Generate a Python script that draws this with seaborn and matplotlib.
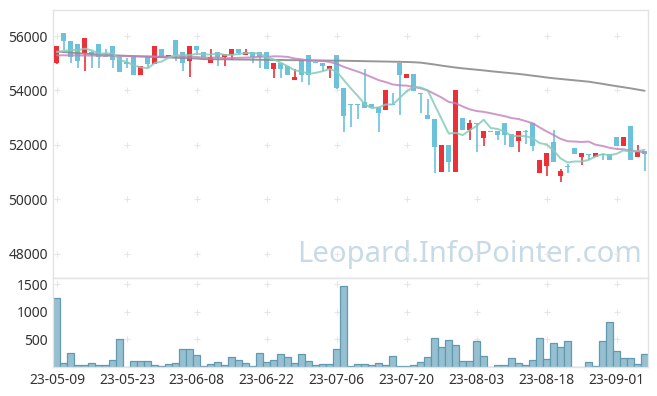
import numpy as np
import pandas as pd
import seaborn as sns
import matplotlib.pyplot as plt

# trading days (KRX holidays skipped)
dates = pd.bdate_range("2023-05-09", "2023-09-07", freq="C",
                       holidays=["2023-05-29", "2023-06-06", "2023-08-15"])
labels = [d.strftime("%y-%m-%d") for d in dates]

opens = [54990, 56120, 55830, 55715, 55370, 55410, 55715, 55260, 55640, 55210,
         55040, 55220, 54565, 55220, 54980, 55530, 55210, 55840, 55420, 55090,
         55640, 55420, 54990, 55420, 55220, 55310, 55520, 55310, 55420, 55420,
         55420, 54800, 55020, 54910, 54390, 55120, 55310, 55020, 55020, 54800,
         55310, 54085, 53490, 53500, 53590, 53490, 53390, 53270, 53500, 55020,
         54470, 54600, 53900, 53085, 52960, 51010, 51975, 51000, 52985, 52530,
         52800, 52260, 52500, 52490, 52800, 52380, 52135, 52500, 52800, 50950,
         51235, 52085, 50840, 51220, 51865, 51540, 51660, 51540, 51660, 51650,
         52270, 51950, 52680, 51540, 51765]
highs = [55650, 56120, 55830, 55715, 55940, 55440, 55715, 55520, 55640, 55210,
         55200, 55220, 54890, 55220, 55650, 55530, 55310, 55840, 55420, 55640,
         55640, 55420, 55520, 55420, 55330, 55530, 55520, 55530, 55420, 55420,
         55420, 55020, 55020, 54910, 54800, 55120, 55310, 55020, 55020, 54900,
         55310, 54085, 53500, 53500, 54800, 53490, 53390, 54010, 53890, 55020,
         54600, 54600, 53900, 53670, 52960, 51975, 51975, 54010, 52985, 52900,
         52800, 52490, 52500, 52490, 52800, 52380, 52490, 52560, 52800, 51455,
         51680, 52555, 51100, 51290, 51865, 51680, 51660, 51680, 51660, 51650,
         52270, 52270, 52680, 51975, 51765]
lows = [54980, 55490, 55000, 54815, 54700, 54815, 54815, 55220, 54815, 54690,
        54815, 54565, 54565, 54815, 54980, 55245, 55210, 55085, 54715, 54480,
        55310, 55210, 54990, 54880, 54890, 55100, 55300, 55310, 55020, 54840,
        54800, 54470, 54470, 54580, 54390, 54290, 54190, 54990, 54720, 54470,
        54060, 52480, 52650, 52960, 53350, 53370, 52480, 53270, 53480, 53085,
        54470, 53990, 53185, 52960, 50970, 51000, 50980, 51000, 52530, 52160,
        51740, 51950, 52480, 52160, 51975, 51935, 51750, 52035, 51760, 50950,
        50840, 51355, 50640, 50960, 51650, 51260, 51440, 51540, 51440, 51430,
        51950, 51950, 51430, 51540, 51045]
closes = [55640, 55800, 55210, 55095, 55930, 55320, 55210, 55240, 55100, 54690,
          54980, 54565, 54890, 54960, 55650, 55245, 55310, 55290, 55000, 55640,
          55490, 55220, 55230, 55240, 55320, 55520, 55370, 55420, 55230, 55230,
          54800, 55020, 54800, 54580, 54490, 54580, 54580, 55000, 54880, 54900,
          54070, 53060, 53470, 53480, 53370, 53370, 53180, 54010, 53480, 54580,
          54600, 53990, 53880, 52950, 51900, 51975, 51355, 54010, 52530, 52800,
          52780, 52490, 52480, 52345, 52345, 51935, 52490, 52480, 51950, 51455,
          51680, 51355, 51045, 51200, 51650, 51680, 51640, 51680, 51640, 51430,
          51950, 52270, 51430, 51765, 51650]
volume = [1248, 67, 248, 30, 30, 67, 30, 30, 121, 503,
          6, 103, 103, 103, 30, 12, 48, 67, 321, 321,
          212, 12, 48, 85, 30, 176, 121, 67, 12, 248,
          85, 121, 230, 176, 67, 230, 103, 30, 48, 48,
          321, 1473, 12, 48, 48, 30, 67, 30, 194, 12,
          12, 30, 85, 176, 521, 358, 485, 394, 103, 103,
          467, 194, 0, 30, 30, 158, 67, 30, 121, 521,
          139, 430, 358, 467, 0, 0, 85, 12, 467, 812,
          285, 158, 158, 48, 230]

# moving averages: the first values need days before the window
ma5_head = [55410, 55450, 55490, 55480]
ma20_head = [55290, 55290, 55285, 55285, 55280, 55280, 55275, 55275, 55270, 55265,
             55260, 55255, 55250, 55250, 55245, 55245, 55245, 55245, 55245]
ma120 = [55430, 55410, 55390, 55370, 55350, 55335, 55320, 55305, 55290, 55280,
         55270, 55260, 55250, 55240, 55230, 55220, 55210, 55200, 55190, 55180,
         55170, 55150, 55147, 55144, 55141, 55138, 55135, 55132, 55129, 55126,
         55123, 55120, 55117, 55114, 55111, 55108, 55105, 55102, 55099, 55096,
         55093, 55090, 55085, 55080, 55075, 55070, 55065, 55060, 55055, 55050,
         55045, 55035, 55020, 54985, 54950, 54910, 54875, 54840, 54810, 54785,
         54760, 54735, 54705, 54680, 54655, 54630, 54605, 54575, 54540, 54510,
         54475, 54445, 54420, 54395, 54370, 54345, 54320, 54280, 54240, 54195,
         54155, 54115, 54075, 54030, 53985]

df = pd.DataFrame({"open": opens, "high": highs, "low": lows, "close": closes,
                   "volume": volume, "ma120": ma120})
df["i"] = np.arange(len(df))
df["ma5"] = df["close"].rolling(5).mean()
df.loc[:3, "ma5"] = ma5_head
df["ma20"] = df["close"].rolling(20).mean()
df.loc[:18, "ma20"] = ma20_head

UP, DOWN = "#ec3038", "#6cc2da"
df["color"] = np.where(df["close"] >= df["open"], UP, DOWN)

sns.set_style("white")
plt.rcParams["font.family"] = ["Noto Sans", "DejaVu Sans"]

fig = plt.figure(figsize=(6.57, 3.96), dpi=100)
ax = fig.add_axes([0.0814, 0.298, 0.905, 0.677])
ax2 = fig.add_axes([0.0814, 0.0732, 0.905, 0.2248], sharex=ax)

# candles
ax.vlines(df["i"], df["low"], df["high"], colors=df["color"], linewidth=1.2, zorder=2)
body_lo = df[["open", "close"]].min(axis=1)
body_h = (df["open"] - df["close"]).abs().clip(lower=35)
ax.bar(df["i"], body_h, bottom=body_lo, width=0.72, color=df["color"], linewidth=0, zorder=3)

# moving averages
sns.lineplot(data=df, x="i", y="ma120", ax=ax, color="#8c8c8c", linewidth=1.4, alpha=0.9, zorder=4)
sns.lineplot(data=df, x="i", y="ma20", ax=ax, color="#c47fbe", linewidth=1.4, alpha=0.8, zorder=4)
sns.lineplot(data=df, x="i", y="ma5", ax=ax, color="#86cbb9", linewidth=1.4, alpha=0.85, zorder=4)

# volume
sns.barplot(data=df, x="i", y="volume", ax=ax2, color="#96c0d0", saturation=1,
            width=1.0, edgecolor="#6199b1", linewidth=0.9, native_scale=True)

xt = np.arange(0, len(df), 10)
pt = [48000, 50000, 52000, 54000, 56000]
vt = [500, 1000, 1500]

ax.set_xlim(-0.5, len(df) - 0.5)
ax.set_ylim(47100, 56960)
ax2.set_ylim(0, 1615)
ax.set_yticks(pt)
ax2.set_yticks(vt)
ax2.set_xticks(xt)
ax2.set_xticklabels([labels[k] for k in xt])

# little "+" marks instead of grid lines
gx, gy = np.meshgrid(xt, pt)
ax.scatter(gx.ravel(), gy.ravel(), marker="+", s=18, color="#e6e6e6", linewidth=0.8, zorder=1)
gx, gy = np.meshgrid(xt, vt)
ax2.scatter(gx.ravel(), gy.ravel(), marker="+", s=18, color="#e6e6e6", linewidth=0.8, zorder=0)

for a in (ax, ax2):
    a.set_xlabel("")
    a.set_ylabel("")
    a.tick_params(length=0, labelsize=10, colors="#333333", pad=4)
    for s in a.spines.values():
        s.set_color("#e3e3e3")
        s.set_linewidth(1)
ax.tick_params(labelbottom=False)

ax.text(0.70, 0.088, "Leopard.InfoPointer.com", transform=ax.transAxes,
        ha="center", va="center", fontsize=21, color="#c6dbe7", zorder=0)

plt.savefig("out.png", dpi=100)
